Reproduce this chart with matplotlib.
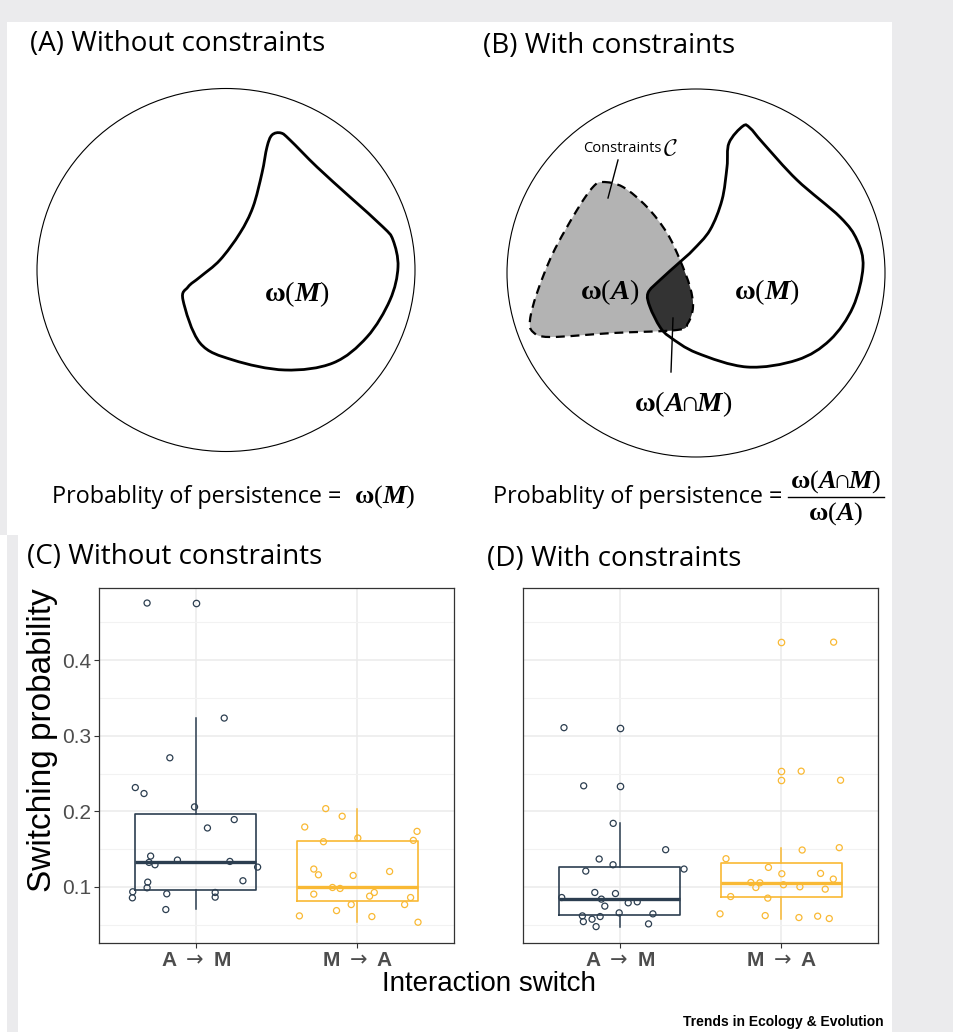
import numpy as np
import matplotlib
matplotlib.use("Agg")
import matplotlib.pyplot as plt
from matplotlib import font_manager as fm
from matplotlib.path import Path
from matplotlib.patches import PathPatch, Ellipse, Rectangle

# fonts: serif math for the omega labels, sans for the rest
plt.rcParams['mathtext.fontset'] = 'dejavusans'
plt.rcParams['mathtext.rm'] = 'Liberation Serif'
plt.rcParams['mathtext.it'] = 'Liberation Serif:italic'
plt.rcParams['mathtext.bf'] = 'Liberation Serif:bold'
plt.rcParams['mathtext.bfit'] = 'Liberation Serif:italic:bold'


def has_font(name):
    try:
        fm.findfont(fm.FontProperties(family=name), fallback_to_default=False)
        return True
    except ValueError:
        return False


NARROW = has_font('Liberation Sans Narrow')
SANS_T = 'Open Sans'      # stand-in for the Myriad titles
SANS_P = 'Liberation Sans'

# ---- data ----
cats = [r'A $\rightarrow$ M', r'M $\rightarrow$ A']

# (C) without constraints, A -> M
c_am_box = dict(q1=0.0964, med=0.1328, q3=0.197, whislo=0.0704, whishi=0.3234)
c_am_out = [0.4757]
c_am_jit = [-0.302, 0.176, -0.161, -0.375, -0.321, -0.008, 0.072, 0.238, -0.280, -0.290,
            -0.253, -0.114, 0.211, 0.383, 0.292, -0.298, -0.302, -0.391, -0.393, -0.180,
            0.120, 0.120, -0.186]
c_am_val = [0.4757, 0.3234, 0.2708, 0.2314, 0.2235, 0.2058, 0.1779, 0.1890, 0.1407, 0.1323,
            0.1292, 0.1354, 0.1336, 0.1261, 0.1080, 0.1062, 0.0987, 0.0934, 0.0854, 0.0907,
            0.0925, 0.0863, 0.0699]

# (C) without constraints, M -> A
c_ma_box = dict(q1=0.0814, med=0.0991, q3=0.160, whislo=0.0531, whishi=0.2035)
c_ma_out = []
c_ma_jit = [-0.195, -0.093, -0.325, 0.371, 0.348, -0.209, 0.004, -0.269, -0.240, -0.025,
            0.201, -0.153, -0.106, -0.269, 0.106, 0.077, 0.331, 0.294, -0.037, -0.128,
            -0.358, 0.091, 0.377]
c_ma_val = [0.2035, 0.1934, 0.1792, 0.1734, 0.1615, 0.1597, 0.1646, 0.1235, 0.1159, 0.1150,
            0.1203, 0.0991, 0.0978, 0.0903, 0.0925, 0.0876, 0.0858, 0.0765, 0.0765, 0.0685,
            0.0615, 0.0606, 0.0531]

# (D) with constraints, A -> M
d_am_box = dict(q1=0.0628, med=0.0841, q3=0.1261, whislo=0.0473, whishi=0.1840)
d_am_out = [0.3107, 0.2337]
d_am_jit = [-0.346, -0.224, -0.041, 0.284, -0.128, -0.042, -0.211, 0.398, -0.155, -0.027,
            -0.360, -0.114, 0.108, 0.052, -0.093, -0.004, 0.205, -0.232, -0.122, -0.226,
            -0.172, -0.147, 0.178]
d_am_val = [0.3107, 0.2337, 0.1840, 0.1491, 0.1368, 0.1292, 0.1208, 0.1235, 0.0925, 0.0911,
            0.0858, 0.0837, 0.0801, 0.0788, 0.0744, 0.0655, 0.0642, 0.0615, 0.0606, 0.0539,
            0.0571, 0.0473, 0.0509]

# (D) with constraints, M -> A
d_ma_box = dict(q1=0.0863, med=0.1053, q3=0.1314, whislo=0.0580, whishi=0.1518)
d_ma_out = [0.4239, 0.2531, 0.2411]
d_ma_jit = [0.325, 0.124, 0.368, 0.360, 0.130, -0.342, -0.079, 0.004, 0.244, 0.323,
            -0.188, -0.132, 0.014, -0.157, 0.116, 0.273, -0.313, -0.083, -0.379, -0.099,
            0.110, 0.226, 0.298]
d_ma_val = [0.4239, 0.2531, 0.2411, 0.1518, 0.1487, 0.1372, 0.1257, 0.1173, 0.1177, 0.1102,
            0.1057, 0.1053, 0.1027, 0.0991, 0.1000, 0.0969, 0.0871, 0.0850, 0.0642, 0.0619,
            0.0593, 0.0611, 0.0580]

NAVY = '#2c3e50'
GOLD = '#f9b934'

# ---- outlines of the sketched regions (pixel coords of the figure) ----
blob_a = [(281, 133), (290, 140), (317, 167), (350, 197), (383, 227), (393, 240), (398, 267),
          (390, 300), (367, 337), (333, 363), (285, 370), (233, 360), (200, 343), (183, 300),
          (188, 287), (200, 277), (220, 260), (240, 233), (253, 207), (262, 173), (267, 147),
          (272, 135)]
blob_m = [(743, 126), (750, 128), (763, 143), (797, 180), (840, 217), (857, 240), (863, 267),
          (853, 307), (830, 340), (797, 360), (747, 367), (697, 353), (670, 337), (660, 327),
          (650, 307), (648, 293), (660, 280), (680, 262), (693, 250), (710, 230), (722, 200),
          (727, 167), (729, 143)]
blob_c = [(603, 182), (623, 187), (647, 207), (667, 233), (680, 260), (690, 287), (693, 307),
          (688, 323), (677, 330), (613, 333), (550, 337), (533, 332), (530, 320), (537, 293),
          (553, 253), (577, 210), (593, 187)]

W, H = 954, 1032
fig = plt.figure(figsize=(W / 100, H / 100), dpi=100, facecolor='white')
bg = fig.add_axes([0, 0, 1, 1])
bg.set_xlim(0, W)
bg.set_ylim(H, 0)
bg.axis('off')

GREY_BG = '#ebebed'
bg.add_patch(Rectangle((0, 0), W, 22, color=GREY_BG, lw=0))
bg.add_patch(Rectangle((892, 0), W - 892, H, color=GREY_BG, lw=0))
bg.add_patch(Rectangle((0, 0), 7, 535, color=GREY_BG, lw=0))
bg.add_patch(Rectangle((7, 535), 11, H - 535, color=GREY_BG, lw=0))


def smooth(pts):
    p = np.asarray(pts, float)
    n = len(p)
    verts, codes = [p[0]], [Path.MOVETO]
    for i in range(n):
        p0, p1, p2, p3 = p[i - 1], p[i], p[(i + 1) % n], p[(i + 2) % n]
        verts += [p1 + (p2 - p0) / 6, p2 - (p3 - p1) / 6, p2]
        codes += [Path.CURVE4] * 3
    verts.append(p[0])
    codes.append(Path.CLOSEPOLY)
    return Path(verts, codes)


def omega(body):
    return r'$\mathbf{\omega}\mathrm{(}' + body + r'\mathrm{)}$'


OM = 20.5   # size of the omega labels
CAP = r'\!\mathbf{\cap}\!'
FORMULA = 16.8

# (A)
bg.text(30, 44, '(A) Without constraints', fontsize=20, family=SANS_T, va='center', ha='left')
bg.add_patch(Ellipse((226, 270), 378, 363, fill=False, lw=0.8, ec='black'))
bg.add_patch(PathPatch(smooth(blob_a), fill=False, lw=2, ec='black'))
bg.text(297, 294, omega(r'\mathbfit{M}'), fontsize=OM, math_fontfamily='custom',
        ha='center', va='center')
bg.text(52, 497, 'Probablity of persistence =', fontsize=FORMULA, family=SANS_T,
        ha='left', va='center')
bg.text(415, 497, omega(r'\mathbfit{M}'), fontsize=19, math_fontfamily='custom',
        ha='right', va='center')

# (B)
bg.text(483, 46, '(B) With constraints', fontsize=20, family=SANS_T, va='center', ha='left')
bg.add_patch(Ellipse((696, 273), 378, 368, fill=False, lw=0.8, ec='black'))
pc = PathPatch(smooth(blob_c), fc='#b3b3b3', ec='none')
bg.add_patch(pc)
dark = PathPatch(smooth(blob_m), fc='#333333', ec='none')
bg.add_patch(dark)
dark.set_clip_path(pc)
bg.add_patch(PathPatch(smooth(blob_c), fill=False, lw=1.6, ec='black', ls=(0, (4, 2.6))))
bg.add_patch(PathPatch(smooth(blob_m), fill=False, lw=2, ec='black'))
bg.plot([618, 608], [160, 198], color='black', lw=1)
bg.plot([671, 673], [372, 318], color='black', lw=1)
bg.text(622, 149, 'Constraints', fontsize=10.5, family=SANS_T, ha='center', va='center')
bg.text(670, 148, r'$\mathcal{C}$', fontsize=17, math_fontfamily='cm', ha='center', va='center')
bg.text(610, 292, omega(r'\mathbfit{A}'), fontsize=OM, math_fontfamily='custom',
        ha='center', va='center')
bg.text(767, 292, omega(r'\mathbfit{M}'), fontsize=OM, math_fontfamily='custom',
        ha='center', va='center')
bg.text(683, 404, omega(r'\mathbfit{A}' + CAP + r'\mathbfit{M}'), fontsize=OM,
        math_fontfamily='custom', ha='center', va='center')
bg.text(493, 497, 'Probablity of persistence =', fontsize=FORMULA, family=SANS_T,
        ha='left', va='center')
bg.text(836, 482, omega(r'\mathbfit{A}' + CAP + r'\mathbfit{M}'), fontsize=19,
        math_fontfamily='custom', ha='center', va='center')
bg.plot([788, 884], [497, 497], color='black', lw=1)
bg.text(836, 514, omega(r'\mathbfit{A}'), fontsize=19, math_fontfamily='custom',
        ha='center', va='center')

# (C) and (D)
bg.text(27, 557, '(C) Without constraints', fontsize=20, family=SANS_T, va='center', ha='left')
bg.text(487, 559, '(D) With constraints', fontsize=20, family=SANS_T, va='center', ha='left')


def px_axes(x0, y0, x1, y1):
    return fig.add_axes([x0 / W, 1 - y1 / H, (x1 - x0) / W, (y1 - y0) / H])


def draw_group(ax, pos, box, out, jit, val, color):
    ax.bxp([dict(box, fliers=out)], positions=[pos], widths=0.75, showcaps=False,
           boxprops=dict(color=color, lw=1.2), medianprops=dict(color=color, lw=2.4),
           whiskerprops=dict(color=color, lw=1.1),
           flierprops=dict(marker='o', mfc='none', mec=color, ms=4.6, mew=0.9))
    ax.scatter(pos + np.array(jit), val, s=19, facecolors='none', edgecolors=color,
               linewidths=0.9, zorder=3)


def style(ax, show_y):
    ax.set_xlim(0.4, 2.6)
    ax.set_ylim(0.0256, 0.4956)
    ax.set_xticks([1, 2])
    ax.set_xticklabels(cats)
    for lbl in ax.get_xticklabels():
        lbl.set_fontsize(15)
        lbl.set_fontweight('bold')
        lbl.set_color('#4d4d4d')
        lbl.set_family(SANS_P)
        lbl.set_math_fontfamily('dejavusans')
    ax.set_yticks([0.1, 0.2, 0.3, 0.4])
    ax.set_yticks([0.05, 0.15, 0.25, 0.35, 0.45], minor=True)
    ax.set_yticklabels(['0.1', '0.2', '0.3', '0.4'], fontsize=15, color='#4d4d4d', family=SANS_P)
    ax.grid(which='major', color='#ebebeb', lw=1.1)
    ax.grid(which='minor', axis='y', color='#f2f2f2', lw=0.8)
    ax.set_axisbelow(True)
    ax.tick_params(which='major', length=3.5, width=0.8, color='#333333', pad=2)
    ax.tick_params(which='minor', length=0)
    if not show_y:
        ax.tick_params(axis='y', left=False, labelleft=False)
    for s in ax.spines.values():
        s.set_color('#333333')
        s.set_linewidth(0.9)


ax_c = px_axes(99, 588, 454, 943)
draw_group(ax_c, 1, c_am_box, c_am_out, c_am_jit, c_am_val, NAVY)
draw_group(ax_c, 2, c_ma_box, c_ma_out, c_ma_jit, c_ma_val, GOLD)
style(ax_c, True)

ax_d = px_axes(523, 588, 878, 943)
draw_group(ax_d, 1, d_am_box, d_am_out, d_am_jit, d_am_val, NAVY)
draw_group(ax_d, 2, d_ma_box, d_ma_out, d_ma_jit, d_ma_val, GOLD)
style(ax_d, False)

bg.text(43, 740, 'Switching probability', fontsize=24, family=SANS_P, rotation=90,
        ha='center', va='center')
if NARROW:
    bg.text(489, 984, 'Interaction switch', fontsize=24, family='Liberation Sans Narrow',
            ha='center', va='center')
    bg.text(884, 1022, 'Trends in Ecology & Evolution', fontsize=12, fontweight='bold',
            family='Liberation Sans Narrow', ha='right', va='center')
else:
    bg.text(489, 984, 'Interaction switch', fontsize=20, family=SANS_P, ha='center', va='center')
    bg.text(884, 1022, 'Trends in Ecology & Evolution', fontsize=10, fontweight='bold',
            family=SANS_P, ha='right', va='center')

fig.savefig('out.png', dpi=100, facecolor='white')
